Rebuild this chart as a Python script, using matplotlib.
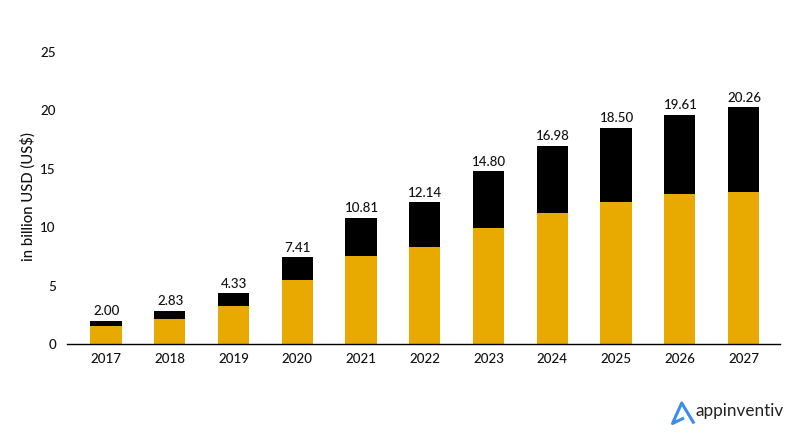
import matplotlib
matplotlib.use("Agg")
import matplotlib.pyplot as plt
from matplotlib.lines import Line2D

plt.rcParams['font.family'] = ['Lato', 'DejaVu Sans']

years = ['2017', '2018', '2019', '2020', '2021', '2022', '2023', '2024', '2025', '2026', '2027']
totals = [2.00, 2.83, 4.33, 7.41, 10.81, 12.14, 14.80, 16.98, 18.50, 19.61, 20.26]
gold_part = [1.5, 2.15, 3.25, 5.45, 7.5, 8.3, 9.9, 11.25, 12.15, 12.8, 13.05]
black_part = [t - g for t, g in zip(totals, gold_part)]
y_ticks = [0, 5, 10, 15, 20, 25]

W, H = 800, 441
fig = plt.figure(figsize=(W / 100, H / 100), dpi=100, facecolor='white')
ax = fig.add_axes([67 / W, (H - 344) / H, (780 - 67) / W, (344 - 52) / H])

x = list(range(len(years)))
ax.bar(x, gold_part, width=0.49, color='#E8AA00', edgecolor='none')
ax.bar(x, black_part, width=0.49, bottom=gold_part, color='#000000', edgecolor='none')

for xi, t in zip(x, totals):
    ax.annotate(f'{t:.2f}', (xi, t), xytext=(0.5, 2.5), textcoords='offset points',
                ha='center', va='bottom', fontsize=9.6, color='#111111', fontweight='medium')

ax.set_xlim(-0.61, 10.57)
ax.set_ylim(0, 25)
ax.set_xticks(x, years)
ax.set_yticks(y_ticks)
ax.tick_params(axis='both', length=0, labelsize=9.6, labelcolor='#111111')
for lbl in ax.get_xticklabels() + ax.get_yticklabels():
    lbl.set_fontweight('medium')
ax.tick_params(axis='x', pad=6.5)
ax.tick_params(axis='y', pad=8)
for s in ['top', 'right', 'left']:
    ax.spines[s].set_visible(False)
ax.spines['bottom'].set_linewidth(1.0)
ax.spines['bottom'].set_color('#000000')
fig.text(28 / W, 1 - 197 / H, 'in billion USD (US$)', rotation=90, ha='center', va='center',
         fontsize=10.7, color='#111111', fontweight='medium')

# Logo
fx = lambda p: p / W
fy = lambda p: 1 - p / H
lx = [694, 681.7, 672.5, 684]
ly = [423.5, 403, 423.5, 418]
fig.add_artist(Line2D([fx(v) for v in lx], [fy(v) for v in ly], color='#3B8EE8', lw=2.2,
                      solid_joinstyle='round', solid_capstyle='butt'))
fig.text(696 / W, fy(416), 'appinventiv', fontsize=12.3, color='#222222', ha='left', va='baseline')

fig.savefig('out.png', dpi=100)
